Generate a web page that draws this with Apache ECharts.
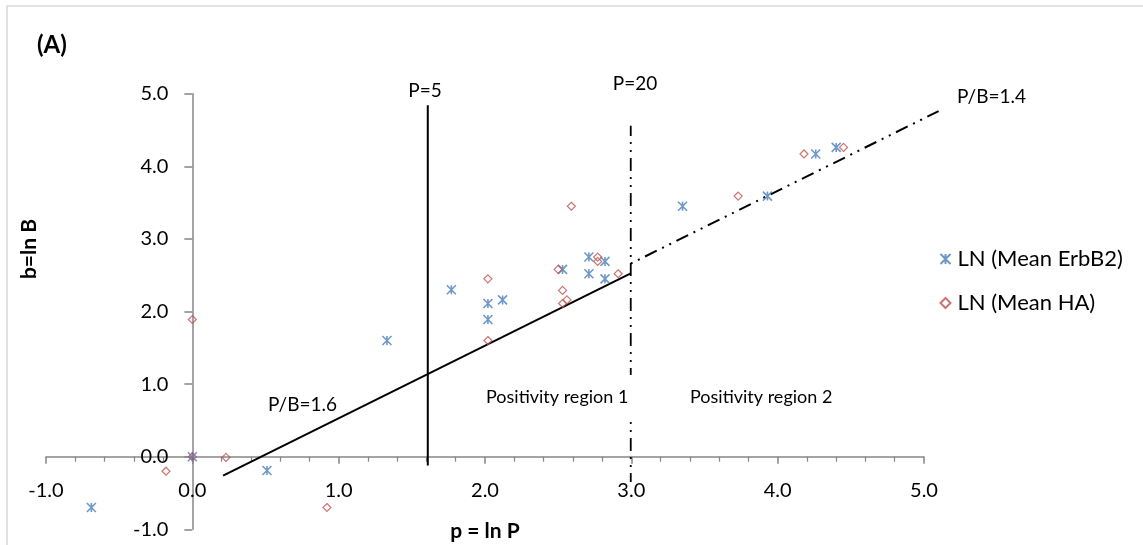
<!DOCTYPE html>
<html>
<head>
<meta charset="utf-8">
<script src="https://cdn.jsdelivr.net/npm/echarts@6/dist/echarts.min.js"></script>
<style>
html,body{margin:0;padding:0;background:#fff;}
#chart{width:1143px;height:545px;}
</style>
</head>
<body>
<div id="chart"></div>
<script>
// ---- data ----
var erbP = [-0.69, 0.00, 0.51, 1.33, 1.77, 2.02, 2.12, 2.02, 2.53, 2.71, 2.71, 2.82, 2.82, 3.35, 3.93, 4.26, 4.40];
var erbB = [-0.70, 0.00, -0.19, 1.60, 2.30, 2.11, 2.16, 1.89, 2.58, 2.75, 2.52, 2.69, 2.45, 3.45, 3.59, 4.17, 4.26];
var haP = [-0.18, 0.00, 0.00, 0.23, 0.92, 2.02, 2.02, 2.50, 2.53, 2.56, 2.53, 2.59, 2.77, 2.77, 2.91, 3.73, 4.18, 4.45];
var haB = [-0.20, 1.89, 0.00, -0.01, -0.70, 2.45, 1.60, 2.58, 2.29, 2.16, 2.11, 3.45, 2.75, 2.69, 2.52, 3.59, 4.17, 4.26];

// reference lines
var p5X = [1.609, 1.609],  p5Y = [-0.12, 4.84];
var p20X = [2.996, 2.996], p20Y = [-0.35, 4.56];
var pb16X = [0.21, 2.996], pb16Y = [-0.26, 2.526];
var pb14X = [2.996, 5.10], pb14Y = [2.66, 4.76];

var seriesNames = ['LN (Mean ErbB2)', 'LN (Mean HA)'];
var xTicks = {min: -1, max: 5, step: 1};
var yTicks = {min: -1, max: 5, step: 1};

function zip(a, b) { return a.map(function (v, i) { return [v, b[i]]; }); }

var FONT = 'Lato';
var AXIS_COLOR = '#868686';
var DASH = [13, 6, 2, 6, 2, 6];

var G = {left: 46, top: 93.7, width: 878, height: 435.6};
// place axes through the origin (as in the reference) by offsetting them from the grid edges
var xZeroPix = G.left + (0 - xTicks.min) / (xTicks.max - xTicks.min) * G.width;
var yZeroPix = G.top + (yTicks.max - 0) / (yTicks.max - yTicks.min) * G.height;
var xAxisOffset = -((G.top + G.height) - yZeroPix);
var yAxisOffset = -(xZeroPix - G.left);

// straight reference line drawn through the axes' scales, not clipped to the grid
function refLine(xs, ys, width, dash, dashOffset) {
  return {
    type: 'custom', clip: false, silent: true, z: 3,
    data: [[xs[0], ys[0], xs[1], ys[1]]],
    encode: {x: [0, 2], y: [1, 3]},
    renderItem: function (params, api) {
      var a = api.coord([api.value(0), api.value(1)]);
      var b = api.coord([api.value(2), api.value(3)]);
      return {
        type: 'line',
        shape: {x1: a[0], y1: a[1], x2: b[0], y2: b[1]},
        style: {stroke: '#000', lineWidth: width, lineDash: dash || null, lineDashOffset: dashOffset || 0, fill: null}
      };
    }
  };
}

var chart = echarts.init(document.getElementById('chart'), null, {renderer: 'canvas'});

var option = {
  animation: false,
  backgroundColor: '#fff',
  textStyle: {fontFamily: FONT},
  grid: {left: G.left, top: G.top, width: G.width, height: G.height, containLabel: false, outerBoundsMode: 'none'},
  xAxis: {
    type: 'value', min: xTicks.min, max: xTicks.max, interval: xTicks.step,
    position: 'bottom', offset: xAxisOffset,
    axisLine: {onZero: false, lineStyle: {color: AXIS_COLOR, width: 1.5}},
    axisTick: {show: true, inside: false, length: 7, lineStyle: {color: AXIS_COLOR, width: 1.5}},
    minorTick: {show: true, splitNumber: 5, length: 5, lineStyle: {color: AXIS_COLOR, width: 1.2}},
    splitLine: {show: false},
    axisLabel: {margin: 24, fontFamily: FONT, fontSize: 20, color: '#000', hideOverlap: false,
      formatter: function (v) { return v.toFixed(1); }}
  },
  yAxis: {
    type: 'value', min: yTicks.min, max: yTicks.max, interval: yTicks.step,
    position: 'left', offset: yAxisOffset,
    axisLine: {onZero: false, lineStyle: {color: AXIS_COLOR, width: 1.5}},
    axisTick: {show: true, inside: false, length: 8, lineStyle: {color: AXIS_COLOR, width: 1.5}},
    splitLine: {show: false},
    axisLabel: {margin: 24, fontFamily: FONT, fontSize: 20, color: '#000', hideOverlap: false,
      formatter: function (v) { return v.toFixed(1); }}
  },
  legend: {
    orient: 'vertical', left: 933, top: 243, itemWidth: 10, itemHeight: 10, itemGap: 22,
    textStyle: {fontFamily: FONT, fontSize: 22, color: '#000', padding: [0, 0, 0, 2]},
    data: seriesNames
  },
  series: [
    refLine(p5X, p5Y, 2),
    refLine(p20X, p20Y, 1.8, DASH, 4),
    refLine(pb16X, pb16Y, 2),
    refLine(pb14X, pb14Y, 2, DASH, 19),
    {name: seriesNames[0], type: 'scatter', data: zip(erbP, erbB),
     symbol: 'path://M0,0L10,10M0,10L10,0M5,0L5,10', symbolSize: 9,
     itemStyle: {color: 'none', borderColor: '#4a7ebb', borderWidth: 1.6}, z: 5},
    {name: seriesNames[1], type: 'scatter', data: zip(haP, haB),
     symbol: 'diamond', symbolSize: 8,
     itemStyle: {color: 'none', borderColor: '#c0504d', borderWidth: 1.2}, z: 6}
  ],
  graphic: [
    {type: 'rect', shape: {x: 7, y: 6, width: 1200, height: 600}, z: 1, silent: true,
     style: {fill: 'transparent', stroke: '#d9d9d9', lineWidth: 1.5}},
    {type: 'text', left: 37, top: 33, z: 100,
     style: {text: '(A)', font: 'bold 24px Lato', fill: '#000'}},
    {type: 'text', x: 485, y: 531, z: 100,
     style: {text: 'p = ln P', font: 'bold 21px Lato', fill: '#000', textAlign: 'center', textVerticalAlign: 'middle'}},
    {type: 'text', x: 29, y: 249, rotation: Math.PI / 2, z: 100,
     style: {text: 'b=ln B', font: 'bold 21px Lato', fill: '#000', textAlign: 'center', textVerticalAlign: 'middle'}},
    {type: 'text', x: 425, y: 91, z: 100,
     style: {text: 'P=5', font: '19px Lato', fill: '#000', textAlign: 'center', textVerticalAlign: 'middle'}},
    {type: 'text', x: 635, y: 84, z: 100,
     style: {text: 'P=20', font: '19px Lato', fill: '#000', textAlign: 'center', textVerticalAlign: 'middle'}},
    {type: 'text', x: 957, y: 97, z: 100,
     style: {text: 'P/B=1.4', font: '19px Lato', fill: '#000', textAlign: 'left', textVerticalAlign: 'middle'}},
    {type: 'text', x: 268, y: 405, z: 100,
     style: {text: 'P/B=1.6', font: '19px Lato', fill: '#000', textAlign: 'left', textVerticalAlign: 'middle'}},
    {type: 'rect', shape: {x: 480, y: 375, width: 156, height: 47}, z: 90,
     style: {fill: '#fff', stroke: 'none'}},
    {type: 'text', x: 486, y: 397, z: 100,
     style: {text: 'Positivity region 1', font: '18px Lato', fill: '#000', textAlign: 'left', textVerticalAlign: 'middle'}},
    {type: 'text', x: 690, y: 397, z: 100,
     style: {text: 'Positivity region 2', font: '18px Lato', fill: '#000', textAlign: 'left', textVerticalAlign: 'middle'}}
  ]
};
chart.setOption(option);
</script>
</body>
</html>
